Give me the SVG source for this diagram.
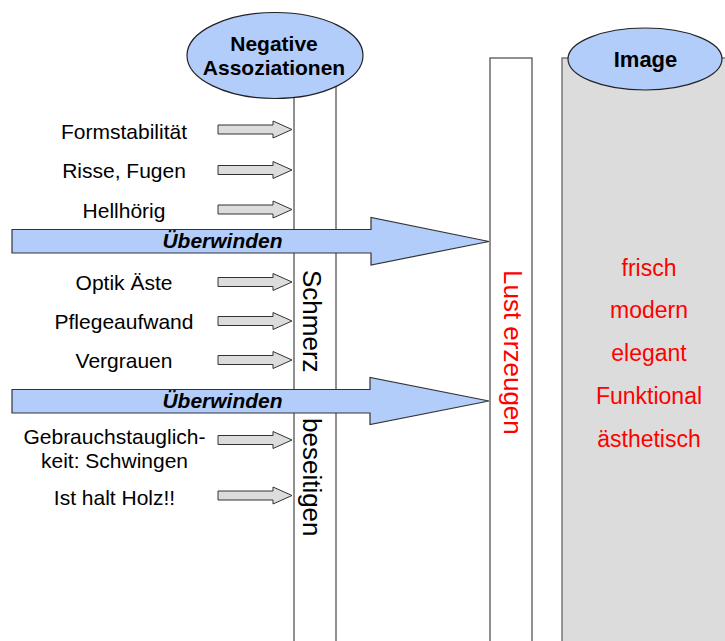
<svg xmlns="http://www.w3.org/2000/svg" width="725" height="641" viewBox="0 0 725 641">
<defs>
<style>
.lbl{font-family:"Liberation Sans",Arial,sans-serif;font-size:21px;fill:#000;text-anchor:middle}
.title{font-family:"Liberation Sans",Arial,sans-serif;font-size:21px;font-weight:bold;fill:#000;text-anchor:middle}
.big{font-family:"Liberation Sans",Arial,sans-serif;font-size:21px;font-weight:bold;font-style:italic;fill:#000;text-anchor:middle}
.vert{font-family:"Liberation Sans",Arial,sans-serif;font-size:26px;fill:#000}
.red{font-family:"Liberation Sans",Arial,sans-serif;font-size:23px;fill:#ff0000;text-anchor:middle}
.col{fill:#fff;stroke:#555;stroke-width:1.3}
.ell{fill:#b3cdfb;stroke:#222;stroke-width:1.2}
.sarr{fill:#dcdcdc;stroke:#333;stroke-width:1}
.barr{fill:#b3cdfb;stroke:#333;stroke-width:1.2}
</style>
<path id="sa" d="M0,-4.5 H55 V-8.5 L74,0 L55,8.5 V4.5 H0 Z"/>
</defs>
<rect width="725" height="641" fill="#fff"/>
<g id="image-column">
<rect x="562" y="58" width="170" height="600" fill="#dcdcdc" stroke="#777" stroke-width="1.5"/>
<text class="red" x="649" y="276">frisch</text>
<text class="red" x="649" y="318">modern</text>
<text class="red" x="649" y="361">elegant</text>
<text class="red" x="649" y="404">Funktional</text>
<text class="red" x="649" y="447">ästhetisch</text>
</g>
<g id="image-ellipse">
<ellipse class="ell" cx="645" cy="59" rx="77" ry="31"/>
<text class="title" x="645.5" y="67" style="font-size:22px">Image</text>
</g>
<g id="lust-column">
<rect class="col" x="490" y="58" width="42" height="600"/>
<text class="vert" transform="translate(503.5,270) rotate(90)" fill="#ff0000" style="fill:#ff0000">Lust erzeugen</text>
</g>
<g id="schmerz-column">
<rect class="col" x="294" y="60" width="42" height="600"/>
<text class="vert" transform="translate(302.5,270) rotate(90)">Schmerz</text>
<text class="vert" transform="translate(302.5,418) rotate(90)">beseitigen</text>
</g>
<g id="negative-ellipse">
<ellipse class="ell" cx="275" cy="55.5" rx="88" ry="43"/>
<text class="title" x="274" y="51">Negative</text>
<text class="title" x="274" y="75">Assoziationen</text>
</g>
<g id="labels">
<text class="lbl" x="124" y="139">Formstabilität</text>
<text class="lbl" x="124" y="178">Risse, Fugen</text>
<text class="lbl" x="124" y="218">Hellhörig</text>
<text class="lbl" x="124" y="290">Optik Äste</text>
<text class="lbl" x="124" y="329">Pflegeaufwand</text>
<text class="lbl" x="124" y="368">Vergrauen</text>
<text class="lbl" x="114.5" y="444">Gebrauchstauglich-</text>
<text class="lbl" x="114.5" y="468">keit: Schwingen</text>
<text class="lbl" x="114.5" y="505">Ist halt Holz!!</text>
</g>
<g id="connectors">
<use href="#sa" class="sarr" x="218" y="129.5"/>
<use href="#sa" class="sarr" x="218" y="170"/>
<use href="#sa" class="sarr" x="218" y="209.5"/>
<use href="#sa" class="sarr" x="218" y="282"/>
<use href="#sa" class="sarr" x="218" y="321"/>
<use href="#sa" class="sarr" x="218" y="360"/>
<use href="#sa" class="sarr" x="218" y="440"/>
<use href="#sa" class="sarr" x="218" y="495.5"/>
<path class="barr" d="M12,229.5 H371 V217.5 L489,241.5 L371,265 V253 H12 Z"/>
<text class="big" x="222.5" y="248">Überwinden</text>
<path class="barr" d="M12,389.5 H370 V377.5 L489,401 L370,424.5 V413 H12 Z"/>
<text class="big" x="222.5" y="408">Überwinden</text>
</g>
</svg>
